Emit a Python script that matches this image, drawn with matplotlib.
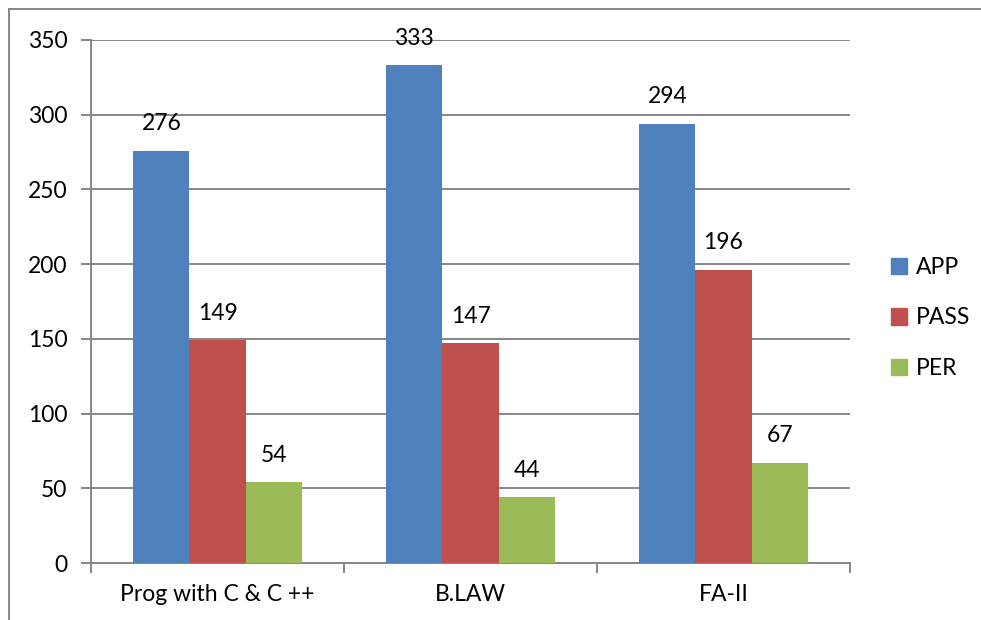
import matplotlib
matplotlib.use("Agg")
import matplotlib.pyplot as plt
import numpy as np
from matplotlib.patches import Rectangle
from matplotlib.lines import Line2D

categories = ["Prog with C & C ++", "B.LAW", "FA-II"]
series_names = ["APP", "PASS", "PER"]
app = [276, 333, 294]
pas = [149, 147, 196]
per = [54, 44, 67]
yticks = [0, 50, 100, 150, 200, 250, 300, 350]
colors = ["#4F81BD", "#C0504D", "#9BBB59"]

plt.rcParams['font.family'] = ['Lato', 'DejaVu Sans']
FS = 16.5

W, H = 981, 620
fig = plt.figure(figsize=(W/100, H/100), dpi=100)
ax = fig.add_axes([91/W, 1-563/H, (850-91)/W, (563-40)/H])

x = np.arange(len(categories))
bw = 0.222
grid_c = "#868686"
for i, (vals, name) in enumerate(zip([app, pas, per], series_names)):
    pos = x + (i-1)*bw
    ax.bar(pos, vals, width=bw, color=colors[i], label=name, zorder=3)
    for p, v in zip(pos, vals):
        ax.annotate(str(v), (p, v), xytext=(0, 12), textcoords="offset points",
                    ha="center", va="bottom", fontsize=FS, color="black")

ax.set_xlim(-0.5, 2.5)
ax.set_ylim(0, 350)
ax.set_yticks(yticks)
ax.set_yticklabels([str(t) for t in yticks], fontsize=FS)
ax.yaxis.grid(True, color=grid_c, linewidth=1.4, zorder=0)
ax.set_axisbelow(True)
ax.set_xticks([-0.5, 0.5, 1.5, 2.5])
ax.set_xticklabels([])
ax.set_xticks(x, minor=True)
ax.set_xticklabels(categories, minor=True, fontsize=FS)
ax.tick_params(axis='x', which='minor', length=0, pad=15)
ax.tick_params(axis='x', which='major', length=7, color=grid_c, width=1.4)
ax.tick_params(axis='y', length=7, color=grid_c, width=1.4, pad=10)
for s in ["top", "right"]:
    ax.spines[s].set_visible(False)
for s in ["left", "bottom"]:
    ax.spines[s].set_color(grid_c)
    ax.spines[s].set_linewidth(1.4)

fig.legend(handles=[Rectangle((0, 0), 1, 1, color=c) for c in colors],
           labels=series_names, loc="center left",
           bbox_to_anchor=(891/W, 1-318/H), frameon=False, fontsize=FS,
           borderpad=0, borderaxespad=0,
           handlelength=0.7, handleheight=0.7, labelspacing=1.3, handletextpad=0.4)

# chart frame (top and left borders)
fig.add_artist(Line2D([9/W, 9/W], [0, 1-9/H], color=grid_c, linewidth=1.4, transform=fig.transFigure))
fig.add_artist(Line2D([9/W, 1], [1-9/H, 1-9/H], color=grid_c, linewidth=1.4, transform=fig.transFigure))

fig.savefig("out.png", dpi=100)
